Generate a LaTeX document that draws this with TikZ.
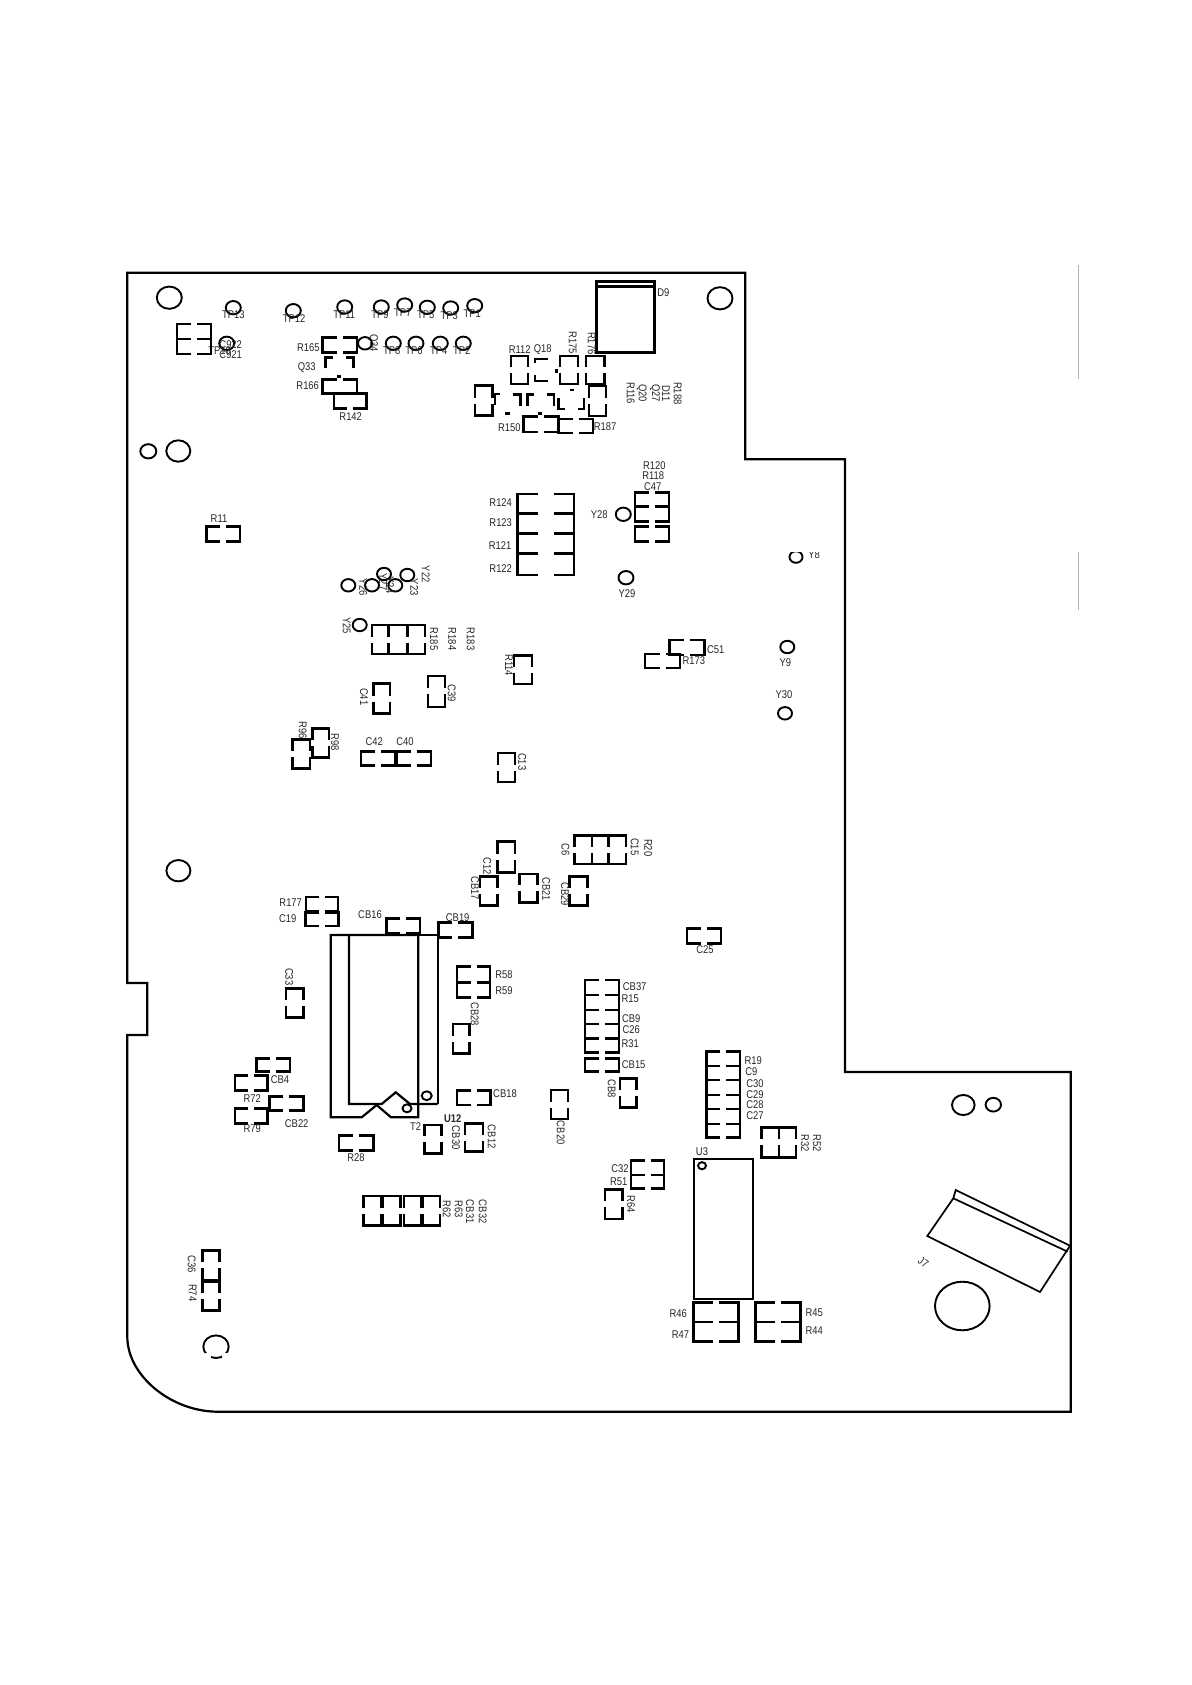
\documentclass[tikz,border=0pt]{standalone}
\usepackage{fontspec}
\setmainfont[FakeStretch=0.84]{Liberation Sans}
\definecolor{inkt}{gray}{0.15}
\tikzset{
  padk/.style={draw=black,line width=1.3pt,line join=miter},
  padn/.style={draw=black,line width=0.85pt,line join=miter},
  brd/.style={draw=black,line width=1.1pt,line join=miter},
  icl/.style={draw=black,line width=0.85pt},
  hl/.style={draw=black,line width=0.95pt},
  lab/.style={text=inkt,inner sep=0pt,font=\fontsize{5.6}{6}\selectfont},
  labr/.style={lab,rotate=-90},
}
\def\gapw{3}
% horizontal part: gaps in the top and bottom edges
\newcommand{\hp}[5][padk]{\pgfmathsetmacro\gA{(#2+#4)/2-\gapw}\pgfmathsetmacro\gB{(#2+#4)/2+\gapw}%
  \draw[#1] (\gA,#3) -- (#2,#3) -- (#2,#5) -- (\gA,#5);
  \draw[#1] (\gB,#3) -- (#4,#3) -- (#4,#5) -- (\gB,#5);}
% vertical part: gaps in the left and right edges
\newcommand{\vp}[5][padk]{\pgfmathsetmacro\gA{(#3+#5)/2-\gapw}\pgfmathsetmacro\gB{(#3+#5)/2+\gapw}%
  \draw[#1] (#2,\gA) -- (#2,#3) -- (#4,#3) -- (#4,\gA);
  \draw[#1] (#2,\gB) -- (#2,#5) -- (#4,#5) -- (#4,\gB);}
\newcommand{\hole}[3]{\draw[hl] (#1,#2) ellipse [x radius=#3,y radius={0.89*#3}];}
\newcommand{\lb}[3]{\node[lab] (t-#3) at (#1,#2) {#3};}
\newcommand{\lr}[3]{\node[labr] (t-#3) at (#1,#2) {#3};}
\begin{document}
\begin{tikzpicture}[x=0.5pt,y=-0.5pt]
\useasboundingbox (0,0) rectangle (1191,1685);
\fill[white] (0,0) rectangle (1191,1685);
% board outline
\draw[brd] (127.3,272.7) -- (745.3,272.7) -- (745.3,459.3) -- (845,459.3) -- (845,1072) -- (1070.7,1072) -- (1070.7,1411.7) -- (216.7,1411.7)
  .. controls (170,1411) and (127.3,1375) .. (127.3,1336.7) -- (127.3,1035) -- (147.3,1035) -- (147.3,983) -- (127.3,983) -- cycle;
% gray margin marks
\draw[gray!60,line width=0.55pt] (1078.3,265) -- (1078.3,379.3);
\draw[gray!60,line width=0.55pt] (1078.3,552) -- (1078.3,610);
% mounting holes
\hole{169.3}{297.7}{12.5}\hole{720}{298.3}{12.5}\hole{148.3}{451.3}{8}\hole{178.3}{451}{12}
\hole{178.4}{870.7}{12}\hole{216}{1346.7}{12.7}\hole{963.3}{1105}{11.3}\hole{993.3}{1104.7}{7.7}\hole{962.3}{1306}{27.3}
\fill[white] (204.5,1352.6) rectangle (210.5,1358);
\fill[white] (221.5,1352.6) rectangle (227.5,1358);
% test points
\hole{233.3}{307.7}{7.5}\hole{293.3}{310.7}{7.5}\hole{344.7}{307}{7.5}\hole{381.3}{307}{7.5}\hole{404.7}{305}{7.5}
\hole{427.3}{307.3}{7.5}\hole{450.7}{308}{7.5}\hole{474.7}{305.7}{7.5}
\hole{393.3}{343.3}{7.5}\hole{416}{343.3}{7.5}\hole{440.3}{343.3}{7.5}\hole{463.3}{343.3}{7.5}\hole{365}{343.3}{7}\hole{226.7}{343.3}{7.5}
\lb{233.3}{315}{TP13}\lb{294}{318.7}{TP12}\lb{344.3}{315}{TP11}\lb{380}{315}{TP9}\lb{402.7}{312.7}{TP7}\lb{425.7}{315}{TP5}\lb{449.3}{315.7}{TP3}\lb{472.3}{313.3}{TP1}
\lb{391.7}{350.7}{TP8}\lb{414}{350.7}{TP6}\lb{438.7}{350.7}{TP4}\lb{461.7}{350.7}{TP2}
\lb{219.5}{350.7}{TP10}\lb{230.7}{344.3}{C922}\lb{230.7}{354.7}{C921}
\lr{373}{343}{Q34}
% top-left parts
\hp[padn]{177.3}{324.3}{211.3}{339.3}\hp[padn]{177.3}{339.3}{211.3}{354}
\hp{322.3}{337.7}{357}{352.3}
\draw[padk] (325.7,368.3) -- (325.7,357.7) -- (332.7,357.7);
\draw[padk] (353.3,368.3) -- (353.3,357.7) -- (346,357.7);
\draw[padk] (336.5,376.7) -- (341,376.7);
\hp[padk]{322.3}{379.3}{357}{393.3}
\hp[padk]{334}{393.3}{366.7}{408.3}
\lb{308.3}{348}{R165}\lb{306.7}{368}{Q33}\lb{307.7}{385.7}{R166}\lb{350.7}{416.7}{R142}
\hp{206.3}{526.3}{240}{541.7}\lb{219}{518.7}{R11}
% D9
\draw[padk] (596.7,281.7) rectangle (654.3,352.3);
\draw[padk] (596.7,286.7) -- (654.3,286.7);
\lb{663.3}{293}{D9}
% R112 area
\vp[padn]{510.7}{355.7}{528.3}{384}\lb{519.7}{349.3}{R112}\lb{542.7}{349.3}{Q18}
\draw[padn] (548.3,358.7) -- (535.3,358.7) -- (535.3,363.3);
\draw[padn] (535.3,375) -- (535.3,380.7) -- (548.3,380.7);
\draw[padk] (556.7,368.5) -- (556.7,372.5);
\vp[padn]{560}{356}{577.7}{384}\lr{572.7}{342.7}{R175}
\vp{586}{356}{604.3}{384}\lr{591.7}{343.3}{R176}
\vp[padn]{589}{386}{606}{415.7}
\vp{475}{385.3}{492.3}{415.7}
\draw[padk] (500,394) -- (495,394) -- (495,405);
\draw[padk] (512.7,394.3) -- (520.7,394.3) -- (520.7,405.7);
\draw[padk] (534,394.3) -- (527.3,394.3) -- (527.3,405.7);
\draw[padk] (546.7,394.3) -- (554,394.3) -- (554,405.7);
\draw[padk] (558.3,398.3) -- (558.3,409) -- (565,409);
\draw[padk] (584,398.3) -- (584,409) -- (578.3,409);
\draw[padk] (569.5,390) -- (574,390);
\draw[padk] (505,413.3) -- (509.5,413.3);
\draw[padk] (538,413.3) -- (542,413.3);
\hp{523.3}{416.7}{558.3}{432}\lb{509.3}{427.7}{R150}
\hp[padn]{558.3}{418.7}{592.7}{433.3}\lb{605}{426.7}{R187}
\lr{677.7}{393.3}{R188}\lr{666}{393.3}{D11}\lr{655}{393.3}{Q27}\lr{641.7}{393.3}{Q20}\lr{630.7}{393.3}{R116}
% R120 area
\lb{654.3}{465.7}{R120}\lb{653.3}{475.7}{R118}\lb{652.7}{486.3}{C47}
\hp{635}{492.3}{669}{506.3}\hp{635}{506.3}{669}{521.7}\hp{635}{526.3}{669}{541.7}
\lb{599.3}{514.3}{Y28}\hole{623.3}{514.3}{7.5}
\hole{796}{557}{6.5}\lb{814}{555}{Y8}
\fill[white] (783,540) rectangle (830,552.3);
% R124 block
\def\gapw{8}
\hp{517.3}{494}{574}{513.3}\hp{517.3}{513.3}{574}{533.3}\hp{517.3}{533.3}{574}{553.3}\hp{517.3}{553.3}{574}{575}
\def\gapw{3}
\lb{500.7}{502.7}{R124}\lb{500.7}{522.7}{R123}\lb{500}{546}{R121}\lb{500.7}{568.7}{R122}
% Y cluster
\hole{348.3}{585.3}{7}\hole{372}{585.3}{7}\hole{384}{574}{7}\hole{395.3}{585.3}{7}\hole{407.3}{575}{7}
\lr{425.7}{574.3}{Y22}\lr{414.3}{587.3}{Y23}\lr{363.3}{587.3}{Y26}\lr{383}{582}{Y27}\lr{390}{585}{Y24}
\hole{359.7}{625}{7}\lr{346.7}{625.7}{Y25}
\vp[padn]{371.7}{625}{388.3}{654}\vp{388.3}{625}{407.3}{654}\vp{407.3}{625}{425}{654}
\lr{434}{639}{R185}\lr{452.3}{639}{R184}\lr{470.7}{639}{R183}
\vp{514}{655.3}{532}{684}\lr{509}{665.3}{R114}
\hp{645}{654}{680}{668}\hp{669.2}{640}{704.2}{655}
\lb{715.8}{650}{C51}\lb{693.8}{660.7}{R173}
\lb{627}{594}{Y29}\hole{626}{577.7}{7.5}
\hole{787.3}{647}{7}\lb{785.3}{662.7}{Y9}
\lb{784}{695}{Y30}\hole{785}{713.3}{7}
\vp{373.3}{683.3}{390}{713.7}\lr{364}{696.7}{C41}
\vp[padn]{428}{676}{444.7}{706.7}\lr{451.7}{693.3}{C39}
\vp{292.3}{739.3}{310}{768.3}\lr{302.7}{730}{R96}
\vp{312.3}{728.3}{329}{757.7}\lr{335}{742.3}{R98}
\lb{374.3}{741.7}{C42}\lb{405}{741.7}{C40}
\hp{361}{751.3}{395.2}{765.7}\hp{396.8}{751.3}{431}{765.7}
\vp[padn]{497.7}{753.3}{515}{781.7}\lr{522.3}{761.7}{C13}
% C6 block
\vp{574.5}{835.7}{591.9}{864}\vp{591.9}{835.7}{608.5}{864}\vp{608.5}{835.7}{625.9}{864}
\lr{565.4}{849.3}{C6}\lr{634.6}{846.7}{C15}\lr{648.3}{847.7}{R20}
\vp{497.7}{841.7}{515.1}{872.3}\lr{487.3}{866}{C12}
\vp{479.9}{876.7}{497.3}{905.3}\lr{474.9}{888.3}{CB17}
\vp{519.7}{874}{537.6}{902.7}\lr{546.3}{889.3}{CB21}
\vp{569.5}{876.7}{587.3}{905.3}\lr{565}{894}{CB29}
% U12 region
\lb{290.7}{902.3}{R177}\lb{287.7}{919}{C19}
\hp[padn]{305.7}{896.7}{338.3}{911}\hp{305.7}{912.3}{338.3}{926}
\lb{370}{914.3}{CB16}\hp{386.7}{918.3}{420}{933.3}
\lb{457.7}{917.7}{CB19}\hp{438.3}{922.7}{472.3}{937.3}
\draw[brd] (418.3,935) -- (330.7,935) -- (330.7,1117.3) -- (361.7,1117.3) -- (376.7,1105) -- (391,1117.3) -- (418.3,1117.3) -- cycle;
\draw[brd] (349,935) -- (349,1104) -- (381.7,1104) -- (395.7,1092.3) -- (410,1104) -- (437.7,1104);
\draw[icl] (418.3,935) -- (437.7,935) -- (437.7,1104);
\hole{426.7}{1095.7}{5}\hole{407}{1108.3}{4.5}
\lr{289.3}{976.7}{C33}\vp{286}{988.7}{303.3}{1017.3}
\lb{504}{974.7}{R58}\lb{504}{990.7}{R59}\hp{457}{966.7}{490}{982.3}\hp{457}{982.3}{490}{997.7}
\lr{474.7}{1014.3}{CB28}\vp{453}{1024}{469.7}{1053.3}
\hp{256.7}{1058.3}{290}{1071.7}\lb{280}{1079.3}{CB4}
\hp{235}{1075.7}{267.7}{1090.7}\lb{252.3}{1098.3}{R72}
\hp{269.3}{1096.7}{303.3}{1110.7}\lb{296.7}{1123.3}{CB22}
\hp{235}{1108.7}{267.7}{1123.7}\lb{252.3}{1128.3}{R79}
\lb{505}{1093.3}{CB18}\hp{457}{1090.7}{490.7}{1105}
\hp{339}{1135.7}{373.7}{1150.7}\lb{356}{1157.3}{R28}
\lb{415.7}{1127}{T2}\vp{424.3}{1125}{441.7}{1153.3}
\node[lab,font=\fontsize{5.6}{6}\selectfont\bfseries] (t-U12) at (452.7,1118.3) {U12};
\lr{456}{1137.7}{CB30}\lr{491.7}{1136.7}{CB12}\vp{465}{1123.3}{483}{1151.7}
\lr{560.7}{1132.7}{CB20}\vp{551}{1090}{568}{1119}
% right column
\hp{687}{928.3}{721}{943.3}\lb{705}{949.3}{C25}
\hp{585}{980}{619}{995}\hp{585}{995}{619}{1010}\hp{585}{1010}{619}{1024}\hp{585}{1024}{619}{1038.3}\hp{585}{1038.3}{619}{1052.7}
\hp{585}{1058.3}{619}{1071.7}
\lb{634.7}{986.3}{CB37}\lb{630.3}{999}{R15}\lb{631.3}{1018.7}{CB9}\lb{631.3}{1029.3}{C26}\lb{630.3}{1043.3}{R31}\lb{633.7}{1064.3}{CB15}
\lr{611.7}{1089}{CB8}\vp{620}{1078.7}{636.7}{1107.7}
\hp{706.7}{1051.7}{740}{1066}\hp{706.7}{1066}{740}{1080}\hp{706.7}{1080}{740}{1095}\hp{706.7}{1095}{740}{1109}\hp{706.7}{1109}{740}{1124}\hp{706.7}{1124}{740}{1137.3}
\lb{753.3}{1060.3}{R19}\lb{751.3}{1071.7}{C9}\lb{755}{1084}{C30}\lb{755}{1094.7}{C29}\lb{755}{1104.3}{C28}\lb{755}{1115.3}{C27}
\vp{761.7}{1127.3}{779}{1157.3}\vp{779}{1127.3}{796}{1157.3}
\lr{805}{1143.3}{R32}\lr{817}{1143.3}{R52}
\draw[icl] (694.3,1159) rectangle (753.3,1299.3);
\hole{702}{1165.7}{4}\lb{702}{1152}{U3}
\hp{631}{1160.3}{664}{1175}\hp{631}{1175}{664}{1188.7}
\lb{620}{1169}{C32}\lb{618.7}{1181.7}{R51}
\vp{605}{1189.3}{622.7}{1219}\lr{631}{1204}{R64}
% bottom right
\draw[icl] (955.7,1190) -- (1070,1245.7) -- (1040,1292) -- (927.3,1236) -- (953.3,1198.3) -- cycle;
\draw[icl] (953.3,1198.3) -- (1067.7,1251.7);
\node[lab,rotate=-35] (t-J7) at (923.3,1262.3) {J7};
\hp{755.3}{1302.7}{800.7}{1322}\hp{755.3}{1322}{800.7}{1341.7}
\hp{693.3}{1302.7}{738.7}{1322}\hp{693.3}{1322}{738.7}{1341.7}
\lb{814.3}{1313}{R45}\lb{814.3}{1330.3}{R44}\lb{678.3}{1313.6}{R46}\lb{680.5}{1335}{R47}
% bottom left
\vp{363.3}{1196}{381.7}{1225.3}\vp{382.7}{1196}{400.3}{1225.3}\vp{404}{1196}{421.7}{1225.3}\vp{422.7}{1196}{440}{1225.3}
\lr{446.7}{1209}{R62}\lr{458.7}{1209}{R63}\lr{470}{1211.7}{CB31}\lr{482.7}{1211.7}{CB32}
\vp{202.3}{1250.7}{219.3}{1280}\vp{202.3}{1281.5}{219.3}{1310.7}
\lr{191.7}{1264}{C36}\lr{192.7}{1292.7}{R74}
\end{tikzpicture}
\end{document}
